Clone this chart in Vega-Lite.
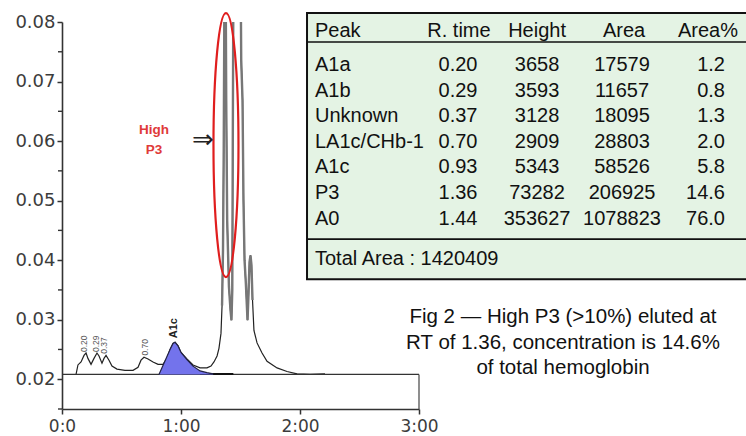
{
  "$schema": "https://vega.github.io/schema/vega-lite/v6.json",
  "width": 357,
  "height": 387,
  "autosize": {"type": "none"},
  "padding": {"left": 62, "top": 22, "right": 327, "bottom": 27},
  "background": "#ffffff",
  "config": {"view": {"stroke": null}, "font": "Liberation Sans"},
  "datasets": {
    "trace": [
      {"t": 0.118, "a": 0.0208}, {"t": 0.134, "a": 0.0224}, {"t": 0.160, "a": 0.0229}, {"t": 0.185, "a": 0.0240},
      {"t": 0.202, "a": 0.0244}, {"t": 0.218, "a": 0.0235}, {"t": 0.244, "a": 0.0225}, {"t": 0.269, "a": 0.0235},
      {"t": 0.294, "a": 0.0244}, {"t": 0.311, "a": 0.0239}, {"t": 0.336, "a": 0.0227}, {"t": 0.353, "a": 0.0235},
      {"t": 0.370, "a": 0.0240}, {"t": 0.395, "a": 0.0232}, {"t": 0.420, "a": 0.0222}, {"t": 0.462, "a": 0.0217},
      {"t": 0.529, "a": 0.0215}, {"t": 0.597, "a": 0.0215}, {"t": 0.639, "a": 0.0220}, {"t": 0.664, "a": 0.0232},
      {"t": 0.689, "a": 0.0237}, {"t": 0.723, "a": 0.0234}, {"t": 0.765, "a": 0.0229}, {"t": 0.807, "a": 0.0225},
      {"t": 0.849, "a": 0.0225}, {"t": 0.882, "a": 0.0235}, {"t": 0.908, "a": 0.0250}, {"t": 0.933, "a": 0.0260},
      {"t": 0.950, "a": 0.0262}, {"t": 0.975, "a": 0.0256}, {"t": 1.000, "a": 0.0245}, {"t": 1.050, "a": 0.0234},
      {"t": 1.101, "a": 0.0224}, {"t": 1.160, "a": 0.0219}, {"t": 1.218, "a": 0.0219}, {"t": 1.252, "a": 0.0222},
      {"t": 1.277, "a": 0.0229}, {"t": 1.303, "a": 0.0239}, {"t": 1.319, "a": 0.0252}, {"t": 1.336, "a": 0.0277},
      {"t": 1.345, "a": 0.0324}, {"t": 1.353, "a": 0.0417}, {"t": 1.359, "a": 0.0585}, {"t": 1.364, "a": 0.0800},
      {"t": 1.366, "a": 0.0890}, {"t": 1.375, "a": 0.0890}, {"t": 1.380, "a": 0.0669}, {"t": 1.388, "a": 0.0467},
      {"t": 1.403, "a": 0.0355}, {"t": 1.416, "a": 0.0316}, {"t": 1.424, "a": 0.0299}, {"t": 1.431, "a": 0.0350},
      {"t": 1.435, "a": 0.0585}, {"t": 1.439, "a": 0.0800}, {"t": 1.442, "a": 0.0890}, {"t": 1.501, "a": 0.0890},
      {"t": 1.506, "a": 0.0736}, {"t": 1.517, "a": 0.0669}, {"t": 1.525, "a": 0.0501}, {"t": 1.534, "a": 0.0400},
      {"t": 1.545, "a": 0.0361}, {"t": 1.559, "a": 0.0299}, {"t": 1.567, "a": 0.0341}, {"t": 1.576, "a": 0.0397},
      {"t": 1.584, "a": 0.0408}, {"t": 1.592, "a": 0.0392}, {"t": 1.601, "a": 0.0333}, {"t": 1.613, "a": 0.0282},
      {"t": 1.639, "a": 0.0261}, {"t": 1.681, "a": 0.0244}, {"t": 1.723, "a": 0.0230}, {"t": 1.807, "a": 0.0219},
      {"t": 1.891, "a": 0.0213}, {"t": 1.975, "a": 0.0209}, {"t": 2.084, "a": 0.0208}, {"t": 2.210, "a": 0.0209}
    ],
    "a1c": [
      {"t": 0.815, "a": 0.0208}, {"t": 0.908, "a": 0.0250}, {"t": 0.933, "a": 0.0260}, {"t": 0.950, "a": 0.0262},
      {"t": 0.975, "a": 0.0256}, {"t": 1.000, "a": 0.0245}, {"t": 1.050, "a": 0.0233}, {"t": 1.101, "a": 0.0222},
      {"t": 1.160, "a": 0.0214}, {"t": 1.218, "a": 0.0211}, {"t": 1.270, "a": 0.0209}
    ],
    "minorticks": [
      {"v": 0.015}, {"v": 0.025}, {"v": 0.035}, {"v": 0.045}, {"v": 0.055}, {"v": 0.065}, {"v": 0.075}
    ],
    "peaklabels": [
      {"label": "0.20", "t": 0.189, "h": 0.0244},
      {"label": "0.29", "t": 0.282, "h": 0.0244},
      {"label": "0.37", "t": 0.349, "h": 0.0241},
      {"label": "0.70", "t": 0.697, "h": 0.0238}
    ],
    "table": [
      {"Peak": "A1a", "RT": 0.20, "Height": 3658, "Area": 17579, "AreaPct": 1.2},
      {"Peak": "A1b", "RT": 0.29, "Height": 3593, "Area": 11657, "AreaPct": 0.8},
      {"Peak": "Unknown", "RT": 0.37, "Height": 3128, "Area": 18095, "AreaPct": 1.3},
      {"Peak": "LA1c/CHb-1", "RT": 0.70, "Height": 2909, "Area": 28803, "AreaPct": 2.0},
      {"Peak": "A1c", "RT": 0.93, "Height": 5343, "Area": 58526, "AreaPct": 5.8},
      {"Peak": "P3", "RT": 1.36, "Height": 73282, "Area": 206925, "AreaPct": 14.6},
      {"Peak": "A0", "RT": 1.44, "Height": 353627, "Area": 1078823, "AreaPct": 76.0}
    ]
  },
  "layer": [
    {
      "layer": [
        {
          "data": {"name": "trace"},
          "mark": {"type": "line", "color": "#222222", "strokeWidth": 1.2, "clip": true},
          "encoding": {
            "x": {"field": "t", "type": "quantitative", "title": null,
              "scale": {"domain": [0, 3], "nice": false, "zero": false},
              "axis": {"values": [0, 1, 2, 3], "labelExpr": "datum.value == 0 ? '0:0' : datum.value + ':00'",
                "labelFlush": false, "labelOverlap": false, "grid": false, "tickSize": 5, "tickWidth": 1.5,
                "tickColor": "#333333", "domainColor": "#333333", "domainWidth": 1.6, "labelFont": "DejaVu Sans",
                "labelFontSize": 17, "labelColor": "#3c3c3c", "labelPadding": 4}},
            "y": {"field": "a", "type": "quantitative", "title": null,
              "scale": {"domain": [0.015, 0.08], "nice": false, "zero": false},
              "axis": {"values": [0.02, 0.03, 0.04, 0.05, 0.06, 0.07, 0.08], "format": ".2f",
                "labelOverlap": false, "labelFlush": false, "grid": false, "tickSize": 5,
                "tickWidth": 1.5, "tickColor": "#333333", "domainColor": "#333333", "domainWidth": 1.6,
                "labelFont": "DejaVu Sans", "labelFontSize": 18, "labelColor": "#3c3c3c", "labelPadding": 2}}
          }
        },
        {
          "data": {"name": "minorticks"},
          "mark": {"type": "tick", "orient": "horizontal", "size": 4, "thickness": 1.4, "color": "#333333", "xOffset": -2, "opacity": 1},
          "encoding": {"x": {"datum": 0, "type": "quantitative"}, "y": {"field": "v", "type": "quantitative"}}
        },
        {
          "data": {"values": [{}]},
          "mark": {"type": "rect", "fill": "#e4f3e4", "stroke": "#111111", "strokeWidth": 2},
          "encoding": {
            "x": {"datum": 2.059, "type": "quantitative"},
            "x2": {"datum": 5.85},
            "y": {"datum": 0.08151, "type": "quantitative"},
            "y2": {"datum": 0.03681}
          }
        },
        {
          "data": {"values": [{}]},
          "mark": {"type": "rule", "color": "#111111", "strokeWidth": 1.6},
          "encoding": {"x": {"datum": 2.059, "type": "quantitative"}, "x2": {"datum": 5.85}, "y": {"datum": 0.07664, "type": "quantitative"}}
        },
        {
          "data": {"values": [{}]},
          "mark": {"type": "rule", "color": "#111111", "strokeWidth": 1.6},
          "encoding": {"x": {"datum": 2.059, "type": "quantitative"}, "x2": {"datum": 5.85}, "y": {"datum": 0.04353, "type": "quantitative"}}
        },
        {
          "data": {"values": [{}]},
          "mark": {"type": "rule", "color": "#333333", "strokeWidth": 1.2},
          "encoding": {"x": {"datum": 0, "type": "quantitative"}, "x2": {"datum": 3}, "y": {"datum": 0.0208, "type": "quantitative"}}
        },
        {
          "data": {"values": [{}]},
          "mark": {"type": "rule", "color": "#444444", "strokeWidth": 1.2},
          "encoding": {"x": {"datum": 3, "type": "quantitative"}, "y": {"datum": 0.015, "type": "quantitative"}, "y2": {"datum": 0.0208}}
        },
        {
          "data": {"values": [{}]},
          "mark": {"type": "rule", "color": "#111111", "strokeWidth": 2},
          "encoding": {"x": {"datum": 1.16, "type": "quantitative"}, "x2": {"datum": 1.44}, "y": {"datum": 0.02088, "type": "quantitative"}}
        },
        {
          "data": {"name": "a1c"},
          "mark": {"type": "area", "color": "#7373ec", "opacity": 1, "line": {"color": "#222244", "strokeWidth": 1.2}},
          "encoding": {
            "x": {"field": "t", "type": "quantitative"},
            "y": {"field": "a", "type": "quantitative"},
            "y2": {"datum": 0.0208}
          }
        },
        {
          "data": {"name": "trace"},
          "transform": [{"filter": "datum.t >= 1.345 && datum.t <= 1.61"}],
          "mark": {"type": "line", "color": "#777777", "strokeWidth": 2.4, "clip": true},
          "encoding": {"x": {"field": "t", "type": "quantitative"}, "y": {"field": "a", "type": "quantitative"}}
        },
        {
          "data": {"name": "peaklabels"},
          "mark": {"type": "text", "angle": 270, "align": "left", "baseline": "middle", "dx": 1, "fontSize": 8.5, "color": "#555555"},
          "encoding": {"x": {"field": "t", "type": "quantitative"}, "y": {"field": "h", "type": "quantitative"}, "text": {"field": "label"}}
        },
        {
          "data": {"values": [{}]},
          "mark": {"type": "text", "angle": 270, "align": "left", "baseline": "middle", "dx": 4, "fontSize": 11, "fontWeight": "bold", "color": "#222222", "text": "A1c"},
          "encoding": {"x": {"datum": 0.941, "type": "quantitative"}, "y": {"datum": 0.0262, "type": "quantitative"}}
        },
        {
          "data": {"values": [{}]},
          "mark": {"type": "point", "filled": false, "opacity": 1, "stroke": "#e01e1e", "strokeWidth": 2.2, "size": 69696,
            "shape": "M0,-1C0.0523,-1,0.0947,-0.5523,0.0947,0C0.0947,0.5523,0.0523,1,0,1C-0.0523,1,-0.0947,0.5523,-0.0947,0C-0.0947,-0.5523,-0.0523,-1,0,-1Z"},
          "encoding": {"x": {"datum": 1.378, "type": "quantitative"}, "y": {"datum": 0.05933, "type": "quantitative"}}
        },
        {
          "data": {"values": [{}]},
          "mark": {"type": "text", "align": "center", "baseline": "middle", "fontSize": 13.5, "fontWeight": "bold", "color": "#e03a3a", "lineHeight": 20, "text": ["High", "P3"]},
          "encoding": {"x": {"datum": 0.773, "type": "quantitative"}, "y": {"datum": 0.06185, "type": "quantitative"}}
        },
        {
          "data": {"values": [{}]},
          "mark": {"type": "text", "align": "center", "baseline": "middle", "fontSize": 26, "font": "DejaVu Sans", "color": "#222222", "text": "⇒"},
          "encoding": {"x": {"datum": 1.185, "type": "quantitative"}, "y": {"datum": 0.06017, "type": "quantitative"}}
        },
        {
          "data": {"values": [{}]},
          "mark": {"type": "text", "align": "center", "baseline": "middle", "fontSize": 20.5, "color": "#111111", "lineHeight": 25.5,
            "text": ["Fig 2 — High P3 (>10%) eluted at", "RT of 1.36, concentration is 14.6%", "of total hemoglobin"]},
          "encoding": {"x": {"datum": 4.21, "type": "quantitative"}, "y": {"datum": 0.03042, "type": "quantitative"}}
        },
        {
          "data": {"values": [{}]},
          "mark": {"type": "text", "align": "left", "baseline": "middle", "fontSize": 20, "color": "#111111", "text": "Peak"},
          "encoding": {"x": {"datum": 2.126, "type": "quantitative"}, "y": {"datum": 0.07857, "type": "quantitative"}}
        },
        {
          "data": {"values": [{}]},
          "mark": {"type": "text", "align": "center", "baseline": "middle", "fontSize": 20, "color": "#111111", "text": "R. time"},
          "encoding": {"x": {"datum": 3.336, "type": "quantitative"}, "y": {"datum": 0.07857, "type": "quantitative"}}
        },
        {
          "data": {"values": [{}]},
          "mark": {"type": "text", "align": "center", "baseline": "middle", "fontSize": 20, "color": "#111111", "text": "Height"},
          "encoding": {"x": {"datum": 3.992, "type": "quantitative"}, "y": {"datum": 0.07857, "type": "quantitative"}}
        },
        {
          "data": {"values": [{}]},
          "mark": {"type": "text", "align": "center", "baseline": "middle", "fontSize": 20, "color": "#111111", "text": "Area"},
          "encoding": {"x": {"datum": 4.723, "type": "quantitative"}, "y": {"datum": 0.07857, "type": "quantitative"}}
        },
        {
          "data": {"values": [{}]},
          "mark": {"type": "text", "align": "left", "baseline": "middle", "fontSize": 20, "color": "#111111", "text": "Area%"},
          "encoding": {"x": {"datum": 5.176, "type": "quantitative"}, "y": {"datum": 0.07857, "type": "quantitative"}}
        },
        {
          "data": {"values": [{}]},
          "mark": {"type": "text", "align": "left", "baseline": "middle", "fontSize": 20, "color": "#111111", "text": "Total Area : 1420409"},
          "encoding": {"x": {"datum": 2.126, "type": "quantitative"}, "y": {"datum": 0.04017, "type": "quantitative"}}
        }
      ]
    },
    {
      "data": {"name": "table"},
      "encoding": {
        "y": {"field": "Peak", "type": "nominal", "axis": null,
          "scale": {"type": "point", "domain": ["A1a", "A1b", "Unknown", "LA1c/CHb-1", "A1c", "P3", "A0"], "range": [43, 196.5], "padding": 0, "round": false}}
      },
      "layer": [
        {
          "mark": {"type": "text", "align": "left", "baseline": "middle", "fontSize": 20, "color": "#111111"},
          "encoding": {"x": {"datum": 2.126, "type": "quantitative"}, "text": {"field": "Peak"}}
        },
        {
          "mark": {"type": "text", "align": "center", "baseline": "middle", "fontSize": 20, "color": "#111111"},
          "encoding": {"x": {"datum": 3.328, "type": "quantitative"}, "text": {"field": "RT", "type": "quantitative", "format": ".2f"}}
        },
        {
          "mark": {"type": "text", "align": "center", "baseline": "middle", "fontSize": 20, "color": "#111111"},
          "encoding": {"x": {"datum": 3.992, "type": "quantitative"}, "text": {"field": "Height", "type": "quantitative", "format": "d"}}
        },
        {
          "mark": {"type": "text", "align": "center", "baseline": "middle", "fontSize": 20, "color": "#111111"},
          "encoding": {"x": {"datum": 4.706, "type": "quantitative"}, "text": {"field": "Area", "type": "quantitative", "format": "d"}}
        },
        {
          "mark": {"type": "text", "align": "right", "baseline": "middle", "fontSize": 20, "color": "#111111"},
          "encoding": {"x": {"datum": 5.571, "type": "quantitative"}, "text": {"field": "AreaPct", "type": "quantitative", "format": ".1f"}}
        }
      ]
    }
  ],
  "resolve": {"scale": {"y": "independent"}, "axis": {"y": "independent"}}
}
